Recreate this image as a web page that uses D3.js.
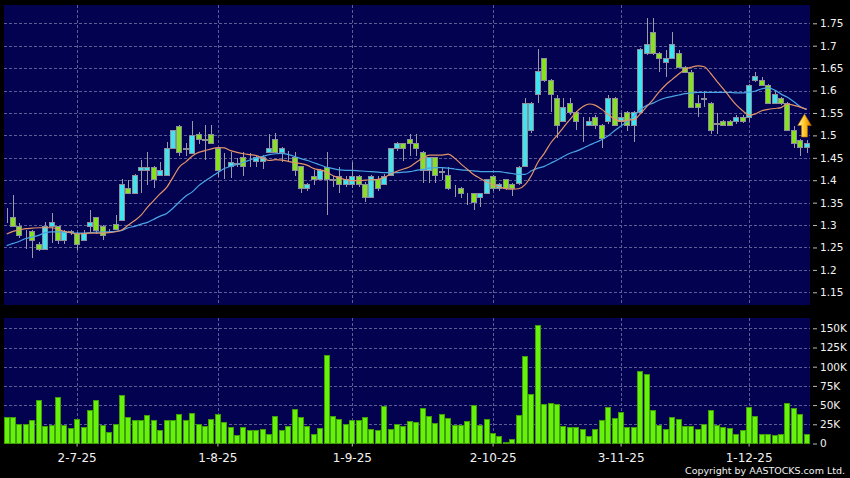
<!DOCTYPE html>
<html>
<head>
<meta charset="utf-8">
<script src="https://cdn.jsdelivr.net/npm/d3@7"></script>
<style>
    html, body { margin: 0; padding: 0; background: #000000; }
    svg { display: block; }
</style>
</head>
<body>
<div id="chart"></div>
<script>

// trading days on the chart, d-m-yy
var dates = [
    "16-6-25","17-6-25","18-6-25","19-6-25","20-6-25","23-6-25","24-6-25","25-6-25","26-6-25","27-6-25","30-6-25",
    "2-7-25","3-7-25","4-7-25","7-7-25","8-7-25","9-7-25","10-7-25","11-7-25","14-7-25","15-7-25","16-7-25",
    "17-7-25","18-7-25","21-7-25","22-7-25","23-7-25","24-7-25","25-7-25","28-7-25","29-7-25","30-7-25","31-7-25",
    "1-8-25","4-8-25","5-8-25","6-8-25","7-8-25","8-8-25","11-8-25","12-8-25","13-8-25","14-8-25","15-8-25",
    "18-8-25","19-8-25","20-8-25","21-8-25","22-8-25","25-8-25","26-8-25","27-8-25","28-8-25","29-8-25",
    "1-9-25","2-9-25","3-9-25","4-9-25","5-9-25","8-9-25","9-9-25","10-9-25","11-9-25","12-9-25","15-9-25",
    "16-9-25","17-9-25","18-9-25","19-9-25","22-9-25","23-9-25","24-9-25","25-9-25","26-9-25","29-9-25","30-9-25",
    "2-10-25","3-10-25","6-10-25","8-10-25","9-10-25","10-10-25","13-10-25","14-10-25","15-10-25","16-10-25",
    "17-10-25","20-10-25","21-10-25","22-10-25","23-10-25","24-10-25","27-10-25","28-10-25","30-10-25","31-10-25",
    "3-11-25","4-11-25","5-11-25","6-11-25","7-11-25","10-11-25","11-11-25","12-11-25","13-11-25","14-11-25",
    "17-11-25","18-11-25","19-11-25","20-11-25","21-11-25","24-11-25","25-11-25","26-11-25","27-11-25","28-11-25",
    "1-12-25","2-12-25","3-12-25","4-12-25","5-12-25","8-12-25","9-12-25","10-12-25","11-12-25","12-12-25"
]

var open_prices = [
    1.317,1.317,1.298,1.284,1.286,1.258,1.246,1.298,1.297,1.267,
    1.285,1.283,1.267,1.298,1.317,1.298,1.286,1.303,1.311,1.382,
    1.372,1.423,1.423,1.43,1.412,1.412,1.471,1.522,1.47,1.461,
    1.502,1.49,1.503,1.471,1.44,1.432,1.438,1.451,1.445,1.443,
    1.443,1.462,1.491,1.462,1.463,1.451,1.432,1.382,1.41,1.402,
    1.43,1.402,1.41,1.392,1.392,1.41,1.392,1.362,1.402,1.392,
    1.412,1.471,1.482,1.491,1.482,1.464,1.423,1.451,1.42,1.412,
    1.385,1.382,1.365,1.371,1.362,1.372,1.41,1.382,1.402,1.392,
    1.393,1.432,1.512,1.593,1.672,1.624,1.583,1.531,1.572,1.553,
    1.53,1.523,1.542,1.523,1.531,1.583,1.531,1.553,1.523,1.553,
    1.683,1.731,1.683,1.663,1.672,1.683,1.652,1.642,1.572,1.583,
    1.572,1.527,1.531,1.531,1.531,1.542,1.542,1.624,1.624,1.612,
    1.572,1.583,1.572,1.512,1.49,1.473
]

var high_prices = [
    1.338,1.366,1.305,1.29,1.288,1.262,1.306,1.326,1.298,1.29,
    1.29,1.285,1.288,1.334,1.318,1.30,1.292,1.322,1.402,1.40,
    1.414,1.445,1.464,1.432,1.44,1.486,1.512,1.523,1.482,1.533,
    1.507,1.523,1.523,1.472,1.46,1.464,1.45,1.464,1.46,1.455,
    1.456,1.502,1.505,1.475,1.466,1.464,1.432,1.393,1.423,1.425,
    1.464,1.41,1.43,1.41,1.441,1.412,1.395,1.412,1.41,1.413,
    1.472,1.485,1.483,1.502,1.502,1.465,1.452,1.452,1.43,1.43,
    1.39,1.384,1.372,1.372,1.372,1.403,1.412,1.393,1.403,1.393,
    1.432,1.583,1.575,1.692,1.673,1.625,1.59,1.583,1.583,1.555,
    1.542,1.54,1.545,1.525,1.59,1.585,1.55,1.555,1.555,1.695,
    1.761,1.761,1.685,1.69,1.731,1.69,1.655,1.645,1.59,1.599,
    1.574,1.549,1.535,1.535,1.545,1.545,1.615,1.642,1.631,1.615,
    1.599,1.585,1.575,1.52,1.492,1.49
]

var low_prices = [
    1.305,1.296,1.27,1.246,1.226,1.242,1.245,1.26,1.258,1.258,
    1.278,1.244,1.265,1.285,1.28,1.267,1.282,1.29,1.31,1.371,
    1.371,1.372,1.39,1.382,1.41,1.41,1.47,1.455,1.453,1.46,
    1.48,1.445,1.48,1.408,1.403,1.404,1.43,1.41,1.43,1.43,
    1.425,1.46,1.46,1.44,1.44,1.41,1.372,1.375,1.39,1.40,
    1.323,1.385,1.371,1.385,1.382,1.385,1.352,1.36,1.375,1.39,
    1.41,1.465,1.443,1.453,1.453,1.393,1.393,1.393,1.40,1.378,
    1.363,1.36,1.345,1.334,1.341,1.37,1.375,1.375,1.378,1.364,
    1.39,1.43,1.505,1.572,1.62,1.553,1.494,1.53,1.545,1.512,
    1.486,1.52,1.515,1.471,1.525,1.52,1.52,1.51,1.486,1.55,
    1.68,1.68,1.642,1.631,1.67,1.65,1.64,1.56,1.542,1.564,
    1.503,1.503,1.52,1.52,1.525,1.528,1.53,1.62,1.61,1.57,
    1.57,1.568,1.51,1.471,1.453,1.46
]

var close_prices = [
    1.318,1.298,1.278,1.285,1.267,1.246,1.297,1.306,1.267,1.286,
    1.286,1.258,1.283,1.307,1.289,1.278,1.287,1.291,1.392,1.372,
    1.412,1.43,1.43,1.402,1.423,1.471,1.511,1.462,1.471,1.501,
    1.491,1.491,1.482,1.423,1.441,1.441,1.437,1.432,1.446,1.451,
    1.451,1.471,1.462,1.471,1.462,1.423,1.382,1.392,1.402,1.422,
    1.402,1.40,1.392,1.402,1.41,1.392,1.362,1.41,1.382,1.41,
    1.471,1.482,1.471,1.482,1.471,1.423,1.451,1.412,1.419,1.382,
    1.384,1.371,1.364,1.352,1.371,1.402,1.382,1.392,1.382,1.382,
    1.43,1.572,1.572,1.643,1.624,1.593,1.523,1.563,1.553,1.531,
    1.529,1.531,1.523,1.494,1.583,1.523,1.542,1.523,1.553,1.692,
    1.703,1.683,1.672,1.672,1.703,1.652,1.642,1.563,1.563,1.582,
    1.512,1.526,1.523,1.523,1.542,1.531,1.612,1.633,1.612,1.572,
    1.592,1.572,1.512,1.484,1.473,1.483
]

// volume in thousands of shares
var volumes = [
    34,34,26,25,31,57,23,24,60,24,
    20,32,22,43,57,24,15,25,63,35,
    30,31,37,30,18,30,30,38,30,40,
    26,23,32,38,28,21,11,22,18,17,
    19,13,36,17,23,45,34,23,12,20,
    115,36,32,25,30,30,34,19,17,49,
    19,26,23,29,28,46,36,27,38,33,
    24,24,29,50,24,32,14,10,2,6,
    37,114,65,154,51,53,52,23,22,22,
    19,10,19,30,47,33,41,21,21,94,
    90,43,24,19,34,32,23,23,19,26,
    44,24,21,20,12,17,47,36,13,13,
    11,13,53,46,39,12
]

// orange moving average line
var ma_short = [
    1.280,1.286,1.289,1.292,1.293,1.294,1.294,1.294,1.291,1.286,
    1.283,1.280,1.281,1.282,1.282,1.282,1.283,1.285,1.289,1.300,
    1.310,1.322,1.340,1.355,1.370,1.384,1.407,1.430,1.441,1.454,
    1.462,1.466,1.470,1.473,1.472,1.466,1.462,1.459,1.457,1.455,
    1.449,1.444,1.446,1.445,1.442,1.439,1.437,1.433,1.426,1.423,
    1.418,1.410,1.405,1.401,1.399,1.399,1.400,1.401,1.402,1.406,
    1.414,1.420,1.425,1.430,1.440,1.449,1.456,1.456,1.456,1.458,
    1.449,1.436,1.424,1.412,1.404,1.396,1.390,1.385,1.381,1.380,
    1.381,1.390,1.411,1.440,1.460,1.483,1.500,1.518,1.535,1.552,
    1.564,1.570,1.567,1.558,1.546,1.536,1.532,1.534,1.535,1.548,
    1.564,1.580,1.598,1.613,1.625,1.637,1.647,1.652,1.655,1.653,
    1.638,1.620,1.603,1.585,1.568,1.555,1.545,1.548,1.555,1.558,
    1.560,1.562,1.570,1.567,1.563,1.558
]

// blue moving average line
var ma_long = [
    1.254,1.259,1.264,1.270,1.273,1.277,1.283,1.285,1.285,1.284,
    1.283,1.282,1.282,1.283,1.284,1.284,1.285,1.286,1.288,1.294,
    1.297,1.302,1.306,1.313,1.320,1.326,1.338,1.352,1.365,1.374,
    1.388,1.398,1.408,1.417,1.426,1.431,1.435,1.440,1.445,1.450,
    1.453,1.457,1.459,1.460,1.457,1.453,1.448,1.444,1.439,1.434,
    1.429,1.426,1.423,1.422,1.422,1.421,1.420,1.419,1.418,1.417,
    1.417,1.417,1.418,1.419,1.422,1.424,1.427,1.428,1.428,1.427,
    1.425,1.423,1.422,1.421,1.419,1.419,1.419,1.419,1.417,1.415,
    1.413,1.413,1.421,1.427,1.431,1.438,1.445,1.453,1.460,1.465,
    1.471,1.478,1.484,1.491,1.499,1.511,1.521,1.531,1.543,1.557,
    1.567,1.572,1.579,1.584,1.587,1.590,1.593,1.595,1.596,1.596,
    1.596,1.596,1.596,1.596,1.595,1.595,1.596,1.599,1.604,1.606,
    1.601,1.592,1.585,1.575,1.564,1.558
]

var price_ticks = [1.15, 1.2, 1.25, 1.3, 1.35, 1.4, 1.45, 1.5, 1.55, 1.6, 1.65, 1.7, 1.75]
var volume_ticks = [0, 25, 50, 75, 100, 125, 150]
var date_ticks = ["2-7-25", "1-8-25", "1-9-25", "2-10-25", "3-11-25", "1-12-25"]


var width = 850
var height = 478
var font = "DejaVu Sans"

var price_box = {left: 4, right: 810, top: 5, bottom: 305}
var volume_box = {left: 4, right: 810, top: 318, bottom: 443.5}

var svg = d3.select("#chart").append("svg")
    .attr("width", width)
    .attr("height", height)
    .attr("viewBox", [0, 0, width, height])
    .style("background-color", "#000000")

var x = d3.scaleBand()
    .domain(dates)
    .range([3.5, 809.9])
    .paddingInner(0.16)
    .paddingOuter(0.08)

var y = d3.scaleLinear()
    .domain([1.15, 1.75])
    .range([292.3, 23.3])

var y_vol = d3.scaleLinear()
    .domain([0, 150])
    .range([443.5, 328.3])

var center = d => Math.round(x(d) + x.bandwidth() / 2)

var rows = dates.map((d, i) => ({
    date: d,
    open: open_prices[i],
    high: high_prices[i],
    low: low_prices[i],
    close: close_prices[i],
    volume: volumes[i],
    ma_short: ma_short[i],
    ma_long: ma_long[i]
}))


// panels
svg.append("rect")
    .attr("x", price_box.left)
    .attr("y", price_box.top)
    .attr("width", price_box.right - price_box.left)
    .attr("height", price_box.bottom - price_box.top)
    .attr("fill", "#020250")

svg.append("rect")
    .attr("x", volume_box.left)
    .attr("y", volume_box.top)
    .attr("width", volume_box.right - volume_box.left)
    .attr("height", volume_box.bottom - volume_box.top)
    .attr("fill", "#020250")


// grid
var grid = svg.append("g")
    .attr("stroke", "#5d5d95")
    .attr("stroke-width", 1)
    .attr("stroke-dasharray", "3,2")
    .attr("shape-rendering", "crispEdges")

grid.selectAll(".hp")
    .data(price_ticks)
    .join("line")
    .attr("class", "hp")
    .attr("x1", price_box.left)
    .attr("x2", price_box.right)
    .attr("y1", d => Math.round(y(d)) + 0.5)
    .attr("y2", d => Math.round(y(d)) + 0.5)

grid.selectAll(".hv")
    .data(volume_ticks.filter(d => d > 0))
    .join("line")
    .attr("class", "hv")
    .attr("x1", volume_box.left)
    .attr("x2", volume_box.right)
    .attr("y1", d => Math.round(y_vol(d)) + 0.5)
    .attr("y2", d => Math.round(y_vol(d)) + 0.5)

grid.selectAll(".vp")
    .data(date_ticks)
    .join("line")
    .attr("class", "vp")
    .attr("x1", d => center(d) + 0.5)
    .attr("x2", d => center(d) + 0.5)
    .attr("y1", price_box.top)
    .attr("y2", price_box.bottom)

grid.selectAll(".vv")
    .data(date_ticks)
    .join("line")
    .attr("class", "vv")
    .attr("x1", d => center(d) + 0.5)
    .attr("x2", d => center(d) + 0.5)
    .attr("y1", volume_box.top)
    .attr("y2", volume_box.bottom)


// candles
var candles = svg.append("g")
    .attr("shape-rendering", "crispEdges")

candles.selectAll(".wick")
    .data(rows)
    .join("line")
    .attr("class", "wick")
    .attr("x1", d => center(d.date) + 0.5)
    .attr("x2", d => center(d.date) + 0.5)
    .attr("y1", d => Math.round(y(d.high)))
    .attr("y2", d => Math.round(y(d.low)))
    .attr("stroke", "#9a9aa6")

candles.selectAll(".body")
    .data(rows)
    .join("rect")
    .attr("class", "body")
    .attr("x", d => center(d.date) - 2.5)
    .attr("y", d => Math.round(y(Math.max(d.open, d.close))) + 0.5)
    .attr("width", 5)
    .attr("height", d => Math.max(0, Math.round(y(Math.min(d.open, d.close))) - Math.round(y(Math.max(d.open, d.close)))))
    .attr("fill", d => d.close >= d.open ? "#3ee4f0" : "#86e21e")
    .attr("stroke", "#8e8e9c")


// moving averages
var line_short = d3.line()
    .x(d => x(d.date) + x.bandwidth() / 2)
    .y(d => y(d.ma_short))
    .curve(d3.curveMonotoneX)

var line_long = d3.line()
    .x(d => x(d.date) + x.bandwidth() / 2)
    .y(d => y(d.ma_long))
    .curve(d3.curveMonotoneX)

svg.append("path")
    .datum(rows)
    .attr("d", line_long)
    .attr("fill", "none")
    .attr("stroke", "#4aa6e6")
    .attr("stroke-width", 1.2)

svg.append("path")
    .datum(rows)
    .attr("d", line_short)
    .attr("fill", "none")
    .attr("stroke", "#e49468")
    .attr("stroke-width", 1.2)


// little up arrow next to the last candle
var defs = svg.append("defs")
var grad = defs.append("linearGradient")
    .attr("id", "arrow_fill")
    .attr("x1", "0%").attr("x2", "100%")
    .attr("y1", "0%").attr("y2", "0%")
grad.append("stop").attr("offset", "0%").attr("stop-color", "#fff3a8")
grad.append("stop").attr("offset", "45%").attr("stop-color", "#ffcc33")
grad.append("stop").attr("offset", "75%").attr("stop-color", "#f2a300")
grad.append("stop").attr("offset", "100%").attr("stop-color", "#c97400")

var last = rows[rows.length - 1]
svg.append("path")
    .attr("transform", "translate(" + (center(last.date) - 2.5) + "," + Math.round(y(1.547)) + ")")
    .attr("d", "M0,0 L6.8,11.5 L3,11.5 L3,23 L-3,23 L-3,11.5 L-6.8,11.5 Z")
    .attr("fill", "url(#arrow_fill)")
    .attr("stroke", "#b86c00")
    .attr("stroke-width", 0.6)


// volume bars
svg.append("g")
    .attr("shape-rendering", "crispEdges")
    .selectAll("rect")
    .data(rows)
    .join("rect")
    .attr("x", d => center(d.date) - 2.5)
    .attr("y", d => Math.round(y_vol(d.volume)) + 0.5)
    .attr("width", 5)
    .attr("height", d => Math.max(0, Math.round(y_vol(0)) - Math.round(y_vol(d.volume)) - 1))
    .attr("fill", "#66f20a")
    .attr("stroke", "#3f9d08")


// axes
var price_axis = svg.append("g")
    .attr("transform", "translate(813,0)")
    .call(d3.axisRight(y)
        .tickValues(price_ticks)
        .tickFormat(d => String(d))
        .tickSize(4)
        .tickPadding(3))

var volume_axis = svg.append("g")
    .attr("transform", "translate(813,0)")
    .call(d3.axisRight(y_vol)
        .tickValues(volume_ticks)
        .tickFormat(d => d === 0 ? "0" : d + "K")
        .tickSize(4)
        .tickPadding(3))

var date_axis = svg.append("g")
    .attr("transform", "translate(0," + volume_box.bottom + ")")
    .call(d3.axisBottom(x)
        .tickValues(date_ticks)
        .tickSize(3)
        .tickPadding(7))

for (const ax of [price_axis, volume_axis, date_axis]) {
    ax.select(".domain").remove()
    ax.selectAll(".tick line").attr("stroke", "#bbbbbb")
    ax.selectAll(".tick text")
        .attr("fill", "#f2f2f2")
        .attr("font-family", font)
}
price_axis.selectAll(".tick text").attr("font-size", "10.5px")
volume_axis.selectAll(".tick text").attr("font-size", "10.5px")
date_axis.selectAll(".tick text").attr("font-size", "12px")

svg.append("text")
    .attr("x", 845)
    .attr("y", 474)
    .attr("text-anchor", "end")
    .attr("font-family", font)
    .attr("font-size", "9.5px")
    .attr("fill", "#f2f2f2")
    .text("Copyright by AASTOCKS.com Ltd.")

</script>
</body>
</html>
